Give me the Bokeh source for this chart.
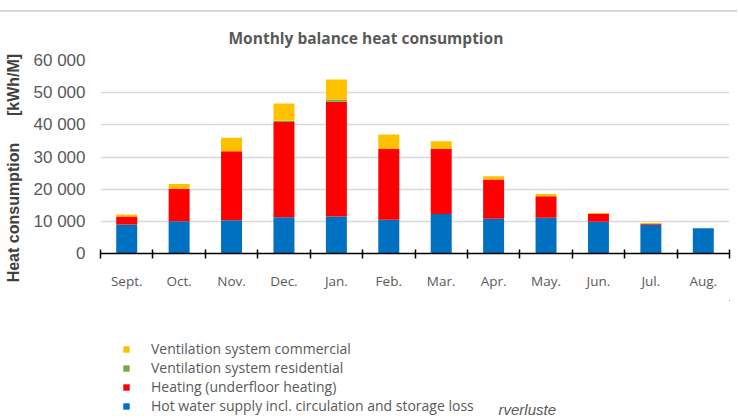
from bokeh.plotting import figure
from bokeh.models import Range1d, FixedTicker, Label, Legend, LegendItem, Div, Title
from bokeh.layouts import column
from bokeh.embed import file_html
from bokeh.resources import INLINE

months = ["Sept.", "Oct.", "Nov.", "Dec.", "Jan.", "Feb.", "Mar.", "Apr.", "May.", "Jun.", "Jul.", "Aug."]
hot_water = [9000, 10000, 10300, 11300, 11500, 10500, 12300, 10800, 11100, 9900, 8900, 7850]
heating = [2500, 10100, 21500, 29600, 35700, 22000, 20200, 12200, 6700, 2400, 300, 0]
vent_residential = [0, 0, 0, 400, 700, 0, 0, 0, 0, 0, 0, 0]
vent_commercial = [600, 1500, 4200, 5300, 6200, 4500, 2400, 1000, 700, 300, 300, 0]
y_ticks = [0, 10000, 20000, 30000, 40000, 50000, 60000]
y_tick_labels = ["0", "10 000", "20 000", "30 000", "40 000", "50 000", "60 000"]

series_names = ["hw", "heat", "vres", "vcom"]
series_labels = ["Hot water supply incl. circulation and storage loss",
                 "Heating (underfloor heating)",
                 "Ventilation system residential",
                 "Ventilation system commercial"]
colors = ["#0070c0", "#ff0000", "#70ad47", "#ffc000"]
note_text = "rverluste"

xs = [i + 0.5 for i in range(len(months))]
data = dict(x=xs, hw=hot_water, heat=heating, vres=vent_residential, vcom=vent_commercial)

GRAY = "#595959"
NB = "\u00a0"

# ---------------- main chart ----------------
p = figure(width=737, height=288, output_backend="svg", toolbar_location=None,
           x_range=Range1d(0, len(months)), y_range=Range1d(0, 60000),
           min_border_left=100, min_border_right=8, min_border_top=48, min_border_bottom=47)
p.outline_line_color = None
p.background_fill_color = "white"
p.border_fill_color = "white"

renderers = p.vbar_stack(series_names, x="x", width=0.4, color=colors, source=data, line_width=0)

p.title = Title(text="Monthly balance heat consumption", align="left", offset=128,
                standoff=24, text_font="Open Sans", text_font_style="bold",
                text_font_size="15.5px", text_color=GRAY)

xa = p.xaxis[0]
xa.ticker = FixedTicker(ticks=xs, minor_ticks=list(range(len(months) + 1)))
xa.major_label_overrides = {x: m for x, m in zip(xs, months)}
xa.major_tick_line_color = None
xa.major_tick_out = 0
xa.major_tick_in = 0
xa.minor_tick_line_color = "black"
xa.minor_tick_line_width = 1.5
xa.minor_tick_in = 4
xa.minor_tick_out = 5
xa.axis_line_color = "black"
xa.axis_line_width = 1.5
xa.major_label_standoff = 13
xa.major_label_text_font = "Open Sans"
xa.major_label_text_font_size = "13.5px"
xa.major_label_text_color = GRAY

ya = p.yaxis[0]
ya.ticker = FixedTicker(ticks=y_ticks)
ya.major_label_overrides = {t: l for t, l in zip(y_ticks, y_tick_labels)}
ya.axis_line_color = None
ya.major_tick_line_color = None
ya.minor_tick_line_color = None
ya.major_tick_out = 0
ya.major_tick_in = 0
ya.major_label_standoff = 15
ya.major_label_text_font = "Liberation Sans"
ya.major_label_text_font_size = "17px"
ya.major_label_text_color = GRAY
ya.axis_label = "Heat consumption" + NB * 6 + "[kWh/M]" + NB * 5
ya.axis_label_standoff = 9
ya.axis_label_text_font = "Liberation Sans"
ya.axis_label_text_font_style = "bold"
ya.axis_label_text_font_size = "16px"
ya.axis_label_text_color = "#404040"

p.xgrid.grid_line_color = None
p.ygrid.grid_line_color = "#d9d9d9"
p.ygrid.grid_line_width = 1.5

# ---------------- legend area ----------------
# legend glyphs come from renderers kept outside this panel's visible ranges
pl = figure(width=737, height=118, output_backend="svg", toolbar_location=None,
            x_range=Range1d(-20, -19), y_range=Range1d(-20, -19),
            x_axis_type=None, y_axis_type=None,
            min_border_left=0, min_border_right=0, min_border_top=0, min_border_bottom=0)
pl.outline_line_color = None
legend_renderers = pl.vbar_stack(series_names, x="x", width=0.4, color=colors,
                                 source=data, line_width=0)
items = [LegendItem(label=lab, renderers=[r]) for lab, r in zip(series_labels, legend_renderers)]
items = items[::-1]
legend = Legend(items=items, location=(22, 3), orientation="vertical",
                glyph_width=8, glyph_height=8, label_height=19, label_standoff=21,
                spacing=0, padding=0, margin=0, border_line_color=None,
                background_fill_alpha=0, label_text_font="Open Sans",
                label_text_font_size="14px", label_text_color=GRAY)
pl.add_layout(legend)
pl.add_layout(Label(x=398, y=9, x_units="screen", y_units="screen", text=note_text,
                    text_align="left", text_baseline="middle",
                    text_font="Liberation Sans", text_font_style="italic",
                    text_font_size="15px", text_color=GRAY))

top_line = Div(text="", width=737, height=2, margin=(10, 0, 0, 0),
               styles={"background-color": "#d9d9d9"})
layout = column(top_line, p, pl, spacing=0)

open("out.html", "w").write(file_html(layout, INLINE))
